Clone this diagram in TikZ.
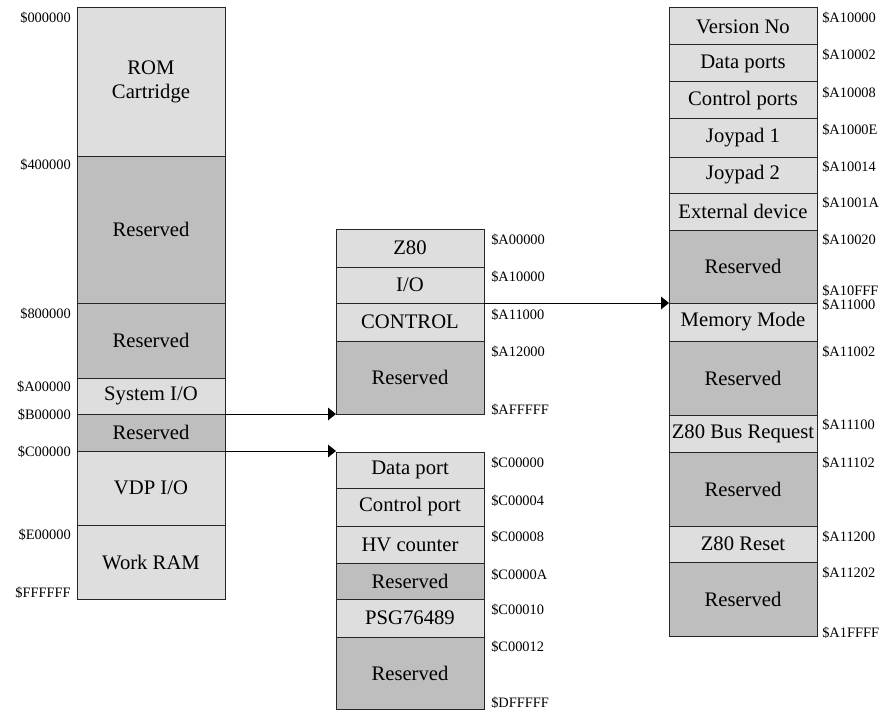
\documentclass[tikz,border=0pt]{standalone}
\usepackage{fontspec}
\setmainfont{Liberation Serif}
\usetikzlibrary{arrows.meta}
\definecolor{lightcell}{RGB}{222,222,222}
\definecolor{darkcell}{RGB}{190,190,190}
\newcommand{\mcell}[6]{\node[cellbox,#2,anchor=north west,minimum height={(#5-#4)*0.75pt}] (#1) at (#3,#4) {#6};}
\begin{document}
\begin{tikzpicture}[x=0.75pt,y=-0.75pt,
  cellbox/.style={draw=black!85,line width=0.75pt,inner sep=0pt,outer sep=0pt,
    minimum width=111pt,align=center,font=\fontsize{15.5}{18.5}\selectfont},
  lt/.style={fill=lightcell},
  dk/.style={fill=darkcell},
  addrl/.style={anchor=east,inner sep=0pt,font=\fontsize{10.8}{12}\selectfont},
  addrr/.style={anchor=west,inner sep=0pt,font=\fontsize{10.8}{12}\selectfont},
  arr/.style={line width=0.75pt,-{Triangle[length=6pt,width=9.5pt]}}]
\useasboundingbox (0,0) rectangle (887,713);
% left column
\mcell{rom}{lt}{77}{8}{156}{ROM\\Cartridge}
\mcell{lres1}{dk}{77}{156}{303}{Reserved}
\mcell{lres2}{dk}{77}{303}{378}{Reserved}
\mcell{sysio}{lt}{77}{378}{414}{System I/O}
\mcell{lres3}{dk}{77}{414}{451}{Reserved}
\mcell{vdp}{lt}{77}{451}{525}{VDP I/O}
\mcell{wram}{lt}{77}{525}{599}{Work RAM}
\node[addrl] (la1) at (71,18) {\$000000};
\node[addrl] (la2) at (71,165) {\$400000};
\node[addrl] (la3) at (71,314) {\$800000};
\node[addrl] (la4) at (71,387) {\$A00000};
\node[addrl] (la5) at (71,415) {\$B00000};
\node[addrl] (la6) at (71,452) {\$C00000};
\node[addrl] (la7) at (71,535) {\$E00000};
\node[addrl] (la8) at (71,593) {\$FFFFFF};
% middle top column
\mcell{z80}{lt}{336}{229}{267}{Z80}
\mcell{io}{lt}{336}{267}{303}{I/O}
\mcell{ctrl}{lt}{336}{303}{341}{CONTROL}
\mcell{zres}{dk}{336}{341}{414}{Reserved}
\node[addrr] (ma1) at (491,240) {\$A00000};
\node[addrr] (ma2) at (491,277) {\$A10000};
\node[addrr] (ma3) at (491,315) {\$A11000};
\node[addrr] (ma4) at (491,352) {\$A12000};
\node[addrr] (ma5) at (491,410) {\$AFFFFF};
% middle bottom column
\mcell{dport}{lt}{336}{452}{488}{Data port}
\mcell{cport}{lt}{336}{488}{526}{Control port}
\mcell{hv}{lt}{336}{526}{563}{HV counter}
\mcell{vres1}{dk}{336}{563}{599}{Reserved}
\mcell{psg}{lt}{336}{599}{637}{PSG76489}
\mcell{vres2}{dk}{336}{637}{709}{Reserved}
\node[addrr] (mb1) at (491,463) {\$C00000};
\node[addrr] (mb2) at (491,501) {\$C00004};
\node[addrr] (mb3) at (491,537) {\$C00008};
\node[addrr] (mb4) at (491,575) {\$C0000A};
\node[addrr] (mb5) at (491,610) {\$C00010};
\node[addrr] (mb6) at (491,647) {\$C00012};
\node[addrr] (mb7) at (491,703) {\$DFFFFF};
% right column
\mcell{ver}{lt}{669}{8}{45}{Version No}
\mcell{dports}{lt}{669}{45}{82}{Data ports}
\mcell{cports}{lt}{669}{82}{119}{Control ports}
\mcell{joy1}{lt}{669}{119}{157}{Joypad 1}
\mcell{joy2}{lt}{669}{157}{193}{Joypad 2}
\mcell{ext}{lt}{669}{193}{230}{External device}
\mcell{rres1}{dk}{669}{230}{303}{Reserved}
\mcell{mmode}{lt}{669}{303}{341}{Memory Mode}
\mcell{rres2}{dk}{669}{341}{415}{Reserved}
\mcell{busreq}{lt}{669}{415}{452}{Z80 Bus Request}
\mcell{rres3}{dk}{669}{452}{526}{Reserved}
\mcell{reset}{lt}{669}{526}{562}{Z80 Reset}
\mcell{rres4}{dk}{669}{562}{636}{Reserved}
\node[addrr] (ra1) at (822,18) {\$A10000};
\node[addrr] (ra2) at (822,55) {\$A10002};
\node[addrr] (ra3) at (822,93) {\$A10008};
\node[addrr] (ra4) at (822,130) {\$A1000E};
\node[addrr] (ra5) at (822,167) {\$A10014};
\node[addrr] (ra6) at (822,203) {\$A1001A};
\node[addrr] (ra7) at (822,240) {\$A10020};
\node[addrr] (ra8) at (822,291) {\$A10FFF};
\node[addrr] (ra9) at (822,305) {\$A11000};
\node[addrr] (ra10) at (822,352) {\$A11002};
\node[addrr] (ra11) at (822,425) {\$A11100};
\node[addrr] (ra12) at (822,463) {\$A11102};
\node[addrr] (ra13) at (822,537) {\$A11200};
\node[addrr] (ra14) at (822,573) {\$A11202};
\node[addrr] (ra15) at (822,633) {\$A1FFFF};
% connectors
\draw[arr] (sysio.south east) -- (zres.south west);
\draw[arr] (lres3.south east) -- (lres3.south east -| dport.west);
\draw[arr] (io.south east) -- (rres1.south west);
\end{tikzpicture}
\end{document}
